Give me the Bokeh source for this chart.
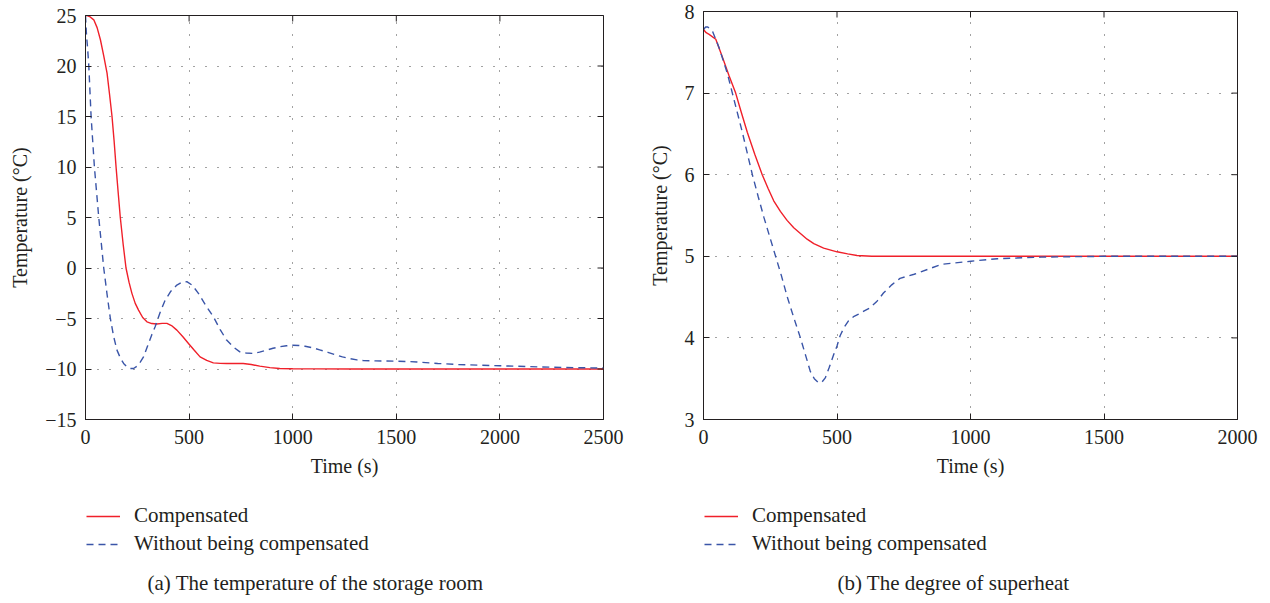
import math
from bokeh.plotting import figure
from bokeh.models import Range1d, FixedTicker, Legend, LegendItem, Label
from bokeh.layouts import row, column
from bokeh.embed import file_html
from bokeh.resources import INLINE

# ---------------- data ----------------
# (a) temperature of the storage room
room_t_comp = [0, 8, 20, 40, 56, 72, 88, 104, 116, 128, 138, 147.5, 158, 168, 182, 195.5, 210, 224, 240,
               256, 276, 296.5, 320, 344.5, 370, 393, 415, 441, 470, 497, 525, 553, 585, 617, 650, 681,
               720, 761, 800, 841, 890, 937.5, 1000, 1100, 1300, 1600, 2000, 2500]
room_v_comp = [25.0, 25.0, 24.9, 24.57, 23.8, 22.6, 21.0, 19.3, 17.2, 15.0, 12.6, 10.0, 7.4, 5.0, 2.3, 0.0,
               -1.4, -2.51, -3.5, -4.17, -4.9, -5.33, -5.5, -5.55, -5.48, -5.48, -5.7, -6.15, -6.8,
               -7.47, -8.15, -8.8, -9.15, -9.39, -9.44, -9.45, -9.45, -9.45, -9.55, -9.72, -9.86, -9.95,
               -9.97, -9.99, -10.0, -10.0, -10.0, -10.0]
room_t_unc = [0, 5, 10, 16, 27, 43, 64, 88, 104, 120, 136, 152, 168, 184, 200, 216, 232, 250, 265, 280,
              300, 320, 336.5, 360, 384.6, 412, 441, 465, 489, 515, 545, 580, 617, 650, 681, 715, 745,
              775, 809, 840, 873.5, 905, 937.5, 970, 1000, 1030, 1060, 1100, 1130, 1170, 1200, 1240,
              1270, 1310, 1340, 1400, 1500, 1600, 1700, 1800, 1900, 2000, 2200, 2400, 2500]
room_v_unc = [25.0, 23.0, 21.8, 20.0, 15.0, 10.0, 5.0, 0.0, -2.6, -5.0, -6.8, -8.13, -8.9, -9.45, -9.8,
              -9.95, -9.95, -9.7, -9.3, -8.8, -7.7, -6.6, -5.8, -4.4, -3.18, -2.3, -1.69, -1.42, -1.35,
              -1.7, -2.51, -3.7, -4.82, -6.1, -7.14, -7.85, -8.3, -8.42, -8.46, -8.33, -8.13, -7.95,
              -7.8, -7.7, -7.65, -7.67, -7.75, -7.92, -8.1, -8.35, -8.55, -8.8, -8.95, -9.1, -9.16,
              -9.2, -9.22, -9.3, -9.45, -9.55, -9.62, -9.68, -9.8, -9.88, -9.9]

# (b) degree of superheat
sh_t_comp = [0, 10, 21, 46, 71, 95, 120.5, 142, 164, 192, 220, 242, 263, 288, 313, 338, 363, 388, 413,
             450, 500, 540, 575, 630, 736, 1000, 1500, 2000]
sh_v_comp = [7.78, 7.74, 7.72, 7.66, 7.44, 7.22, 7.0, 6.76, 6.52, 6.25, 6.0, 5.83, 5.68, 5.55, 5.44,
             5.35, 5.28, 5.21, 5.155, 5.1, 5.055, 5.03, 5.01, 5.0, 5.0, 5.0, 5.0, 5.0]
sh_t_unc = [0, 8, 16, 33.5, 58, 89.5, 108, 145.5, 183, 205, 226, 248, 270, 292, 313, 338, 363, 383,
            400, 415, 431, 444, 456, 470, 487, 500, 512, 527, 543, 562, 581, 602, 624, 650, 674, 705,
            736, 789, 840, 889, 1002, 1100, 1264, 1500, 2000]
sh_v_unc = [7.78, 7.81, 7.81, 7.76, 7.56, 7.24, 7.0, 6.52, 6.0, 5.73, 5.48, 5.24, 5.0, 4.76, 4.51,
            4.25, 4.0, 3.78, 3.59, 3.5, 3.45, 3.46, 3.51, 3.63, 3.79, 3.9, 4.03, 4.13, 4.21, 4.26,
            4.29, 4.33, 4.37, 4.45, 4.55, 4.65, 4.73, 4.78, 4.84, 4.9, 4.94, 4.97, 4.99, 5.0, 5.0]

room_xticks = [0, 500, 1000, 1500, 2000, 2500]
room_yticks = [-15, -10, -5, 0, 5, 10, 15, 20, 25]
sh_xticks = [0, 500, 1000, 1500, 2000]
sh_yticks = [3, 4, 5, 6, 7, 8]

series_labels = ["Compensated", "Without being compensated"]
x_label = "Time (s)"
y_label = "Temperature (°C)"
captions = ["(a)  The temperature of the storage room", "(b)  The degree of superheat"]

# ---------------- style ----------------
FONT = "Liberation Serif"
INK = "#231f20"
RED = "#f0202a"
BLUE = "#3a55a8"
DASH = "7 5"
MAIN_H = 489
LEG_H = 114
NAN = float("nan")


def minus(v):
    return f"{v:g}".replace("-", "\u2212")


def make_plot(t_comp, v_comp, t_unc, v_unc, xticks, yticks, width, border_left, border_right, border_top):
    p = figure(width=width, height=MAIN_H, output_backend="svg", toolbar_location=None,
               x_range=Range1d(xticks[0], xticks[-1]), y_range=Range1d(yticks[0], yticks[-1]),
               min_border_left=border_left, min_border_right=border_right,
               min_border_top=border_top, min_border_bottom=70,
               x_axis_label=x_label, y_axis_label=y_label)
    p.background_fill_color = "white"
    p.border_fill_color = "white"
    p.outline_line_color = INK
    p.outline_line_width = 1

    p.line(t_comp, v_comp, line_color=RED, line_width=1.4)
    p.line(t_unc, v_unc, line_color=BLUE, line_width=1.4, line_dash=DASH)

    for ax in (p.xaxis[0], p.yaxis[0]):
        ax.major_label_text_font = FONT
        ax.major_label_text_font_size = "20px"
        ax.major_label_text_color = INK
        ax.axis_label_text_font = FONT
        ax.axis_label_text_font_size = "20px"
        ax.axis_label_text_font_style = "normal"
        ax.axis_label_text_color = INK
        ax.axis_line_color = INK
        ax.major_tick_line_color = INK
        ax.major_tick_in = 6
        ax.major_tick_out = 0
        ax.minor_tick_line_color = None
    p.xaxis[0].ticker = FixedTicker(ticks=xticks)
    p.yaxis[0].ticker = FixedTicker(ticks=yticks)
    p.xaxis[0].major_label_standoff = 10
    p.yaxis[0].major_label_standoff = 9
    p.xaxis[0].axis_label_standoff = 8
    p.yaxis[0].axis_label_standoff = 11
    p.yaxis[0].major_label_overrides = {v: minus(v) for v in yticks}

    # mirrored inward tick marks on the top and right edges (half of each dash is clipped by the frame)
    p.scatter(xticks, [yticks[-1]] * len(xticks), marker="dash", angle=math.pi / 2, size=12,
              line_color=INK, line_width=1)
    p.scatter([xticks[-1]] * len(yticks), yticks, marker="dash", size=12,
              line_color=INK, line_width=1)

    p.xgrid[0].ticker = FixedTicker(ticks=xticks)
    p.ygrid[0].ticker = FixedTicker(ticks=yticks)
    for g in (p.xgrid[0], p.ygrid[0]):
        g.grid_line_color = "#444444"
        g.grid_line_width = 1
        g.grid_line_dash = "1 11"
    return p


def make_key(width, caption, caption_x):
    # the key's frame is aligned by the column layout with the plot frame above it
    k = figure(width=width, height=LEG_H, output_backend="svg", toolbar_location=None,
               x_range=Range1d(0, 1), y_range=Range1d(0, 1),
               min_border_left=0, min_border_right=0, min_border_top=0, min_border_bottom=0)
    k.axis.visible = False
    k.grid.visible = False
    k.outline_line_color = None
    k.background_fill_color = "white"
    k.border_fill_color = "white"
    # legend proxies (no visible data)
    r1 = k.line([NAN], [NAN], line_color=RED, line_width=1.4)
    r2 = k.line([NAN], [NAN], line_color=BLUE, line_width=1.4, line_dash=DASH)
    legend = Legend(items=[LegendItem(label=series_labels[0], renderers=[r1]),
                           LegendItem(label=series_labels[1], renderers=[r2])],
                    location=(1, 47), orientation="vertical",
                    margin=0, padding=0, spacing=3,
                    glyph_width=34, glyph_height=24, label_height=24, label_standoff=14,
                    label_text_font=FONT, label_text_font_size="21px", label_text_color=INK,
                    border_line_alpha=0, background_fill_alpha=0)
    k.add_layout(legend, "center")
    k.add_layout(Label(x=caption_x, y=21, x_units="screen", y_units="screen", text=caption,
                       text_font=FONT, text_font_size="21px", text_color=INK,
                       text_baseline="middle", text_align="left"))
    return k


p1 = make_plot(room_t_comp, room_v_comp, room_t_unc, room_v_unc, room_xticks, room_yticks,
               638, 85, 35, 15)
p2 = make_plot(sh_t_comp, sh_v_comp, sh_t_unc, sh_v_unc, sh_xticks, sh_yticks,
               632, 65, 33, 11)
k1 = make_key(638, captions[0], 62)
k2 = make_key(632, captions[1], 134)

layout = row(column(p1, k1, spacing=0), column(p2, k2, spacing=0), spacing=0)
open("out.html", "w").write(file_html(layout, INLINE))
